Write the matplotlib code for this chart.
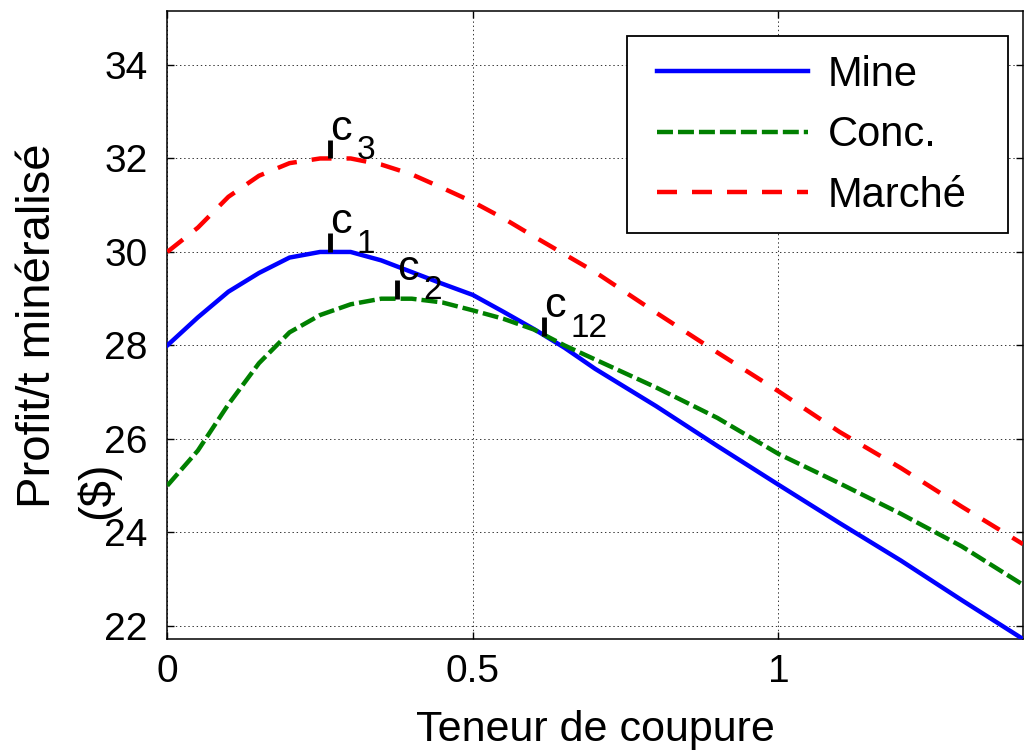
import matplotlib
matplotlib.use("Agg")
import matplotlib.pyplot as plt
from matplotlib.patches import Rectangle

plt.rcParams['font.family'] = ['Liberation Sans', 'DejaVu Sans']
plt.rcParams['lines.scale_dashes'] = False

# ---- data ----
teneur = [0, 0.05, 0.1, 0.15, 0.2, 0.25, 0.3, 0.35, 0.4, 0.45, 0.5, 0.55,
          0.6, 0.65, 0.7, 0.8, 0.9, 1.0, 1.1, 1.2, 1.3, 1.4]
mine = [28.0, 28.6, 29.15, 29.55, 29.88, 30.0, 30.0, 29.82, 29.57, 29.32, 29.08,
        28.72, 28.35, 27.95, 27.5, 26.7, 25.85, 25.02, 24.2, 23.4, 22.55, 21.72]
conc = [25.0, 25.75, 26.74, 27.62, 28.28, 28.65, 28.88, 29.0, 29.0, 28.92, 28.75,
        28.57, 28.34, 28.0, 27.7, 27.1, 26.45, 25.68, 25.05, 24.4, 23.7, 22.88]
marche = [30.0, 30.52, 31.18, 31.63, 31.9, 32.0, 32.0, 31.87, 31.66, 31.37, 31.07,
          30.72, 30.33, 29.95, 29.57, 28.7, 27.85, 27.02, 26.15, 25.38, 24.55, 23.75]
series_labels = ["Mine", "Conc.", "Marché"]

mark_x = [0.266, 0.266, 0.376, 0.616]
mark_y = [32.0, 30.0, 29.0, 28.2]
mark_sub = ["3", "1", "2", "12"]

xticks = [0, 0.5, 1]
yticks = [22, 24, 26, 28, 30, 32, 34]

# ---- figure ----
fig = plt.figure(figsize=(10.25, 7.53), dpi=100)
ax = fig.add_axes([0.1632, 0.1514, 0.8348, 0.834])

ax.plot(teneur, mine, color='#0000FF', lw=3.2, label=series_labels[0], zorder=3)
ax.plot(teneur, conc, color='#008000', lw=3.2, dashes=[11.5, 3.6],
        label=series_labels[1], zorder=3)
ax.plot(teneur, marche, color='#FF0000', lw=3.2, dashes=[14.4, 10.8],
        label=series_labels[2], zorder=3)

bar_h = 0.4
for mx, my, sub in zip(mark_x, mark_y, mark_sub):
    ax.plot([mx, mx], [my, my + bar_h], color='black', lw=3.5,
            solid_capstyle='butt', zorder=4)
    ax.text(mx, my + bar_h, "c", fontsize=31, ha='left', va='baseline', zorder=5)
    ax.annotate(sub, xy=(mx, my + bar_h), xytext=(19, -14),
                textcoords='offset points', fontsize=24, ha='left',
                va='baseline', zorder=5)

ax.set_xlim(0, 1.4)
ax.set_ylim(21.72, 35.155)
ax.set_xticks(xticks)
ax.set_xticklabels([f"{t:g}" for t in xticks])
ax.set_yticks(yticks)
ax.set_yticklabels([str(t) for t in yticks])

ax.grid(True, color='#333333', linestyle=(0, (1, 2)), lw=0.7)
ax.tick_params(direction='in', top=True, right=True, length=5, width=1,
               labelsize=28)
ax.tick_params(axis='y', pad=14)
ax.tick_params(axis='x', pad=11)
for s in ax.spines.values():
    s.set_linewidth(1.1)

ax.set_xlabel("Teneur de coupure", fontsize=31, labelpad=14)
fig.text(38 / 1025, 1 - 326 / 753, "Profit/t minéralisé", rotation=90,
         fontsize=34, ha='center', va='center')
fig.text(98 / 1025, 1 - 490 / 753, "($)", rotation=90,
         fontsize=34, ha='center', va='center')

# legend with a square frame
ax.add_patch(Rectangle((0.537, 0.646), 0.982 - 0.537, 0.960 - 0.646,
                       transform=ax.transAxes, facecolor='white',
                       edgecolor='black', lw=1.3, zorder=6))
leg = ax.legend(loc='upper left', bbox_to_anchor=(0.5723, 0.930), frameon=False,
                fontsize=30, handlelength=3.62, handletextpad=0.48,
                labelspacing=0.49, borderpad=0, borderaxespad=0)
leg.set_zorder(7)

fig.savefig("out.png", dpi=100)
